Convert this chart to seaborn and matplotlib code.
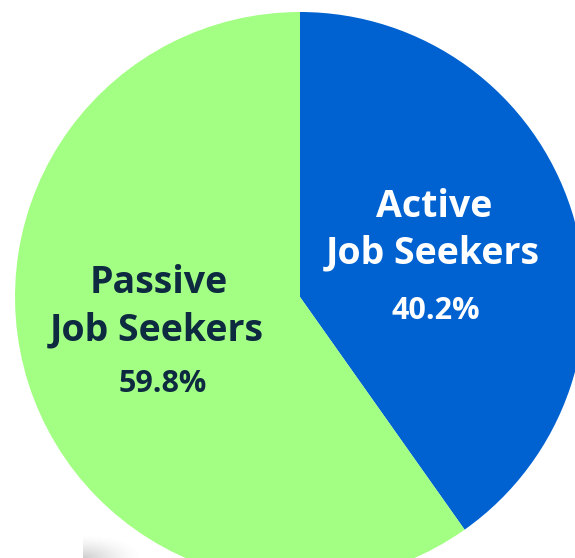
import matplotlib
matplotlib.use("Agg")
import matplotlib.pyplot as plt
import seaborn as sns
import numpy as np

sns.set_theme(style="white")
plt.rcParams['font.family'] = ['Open Sans', 'DejaVu Sans']

categories = ["Active\nJob Seekers", "Passive\nJob Seekers"]
values = [40.2, 59.8]
colors = ["#0062D1", "#A3FF84"]
text_colors = ["white", "#0D2A40"]

W, H = 575, 558
fig = plt.figure(figsize=(W / 100, H / 100), dpi=100)
ax = fig.add_axes([0, 0, 1, 1])

cx, cy, r = 300, H - 297, 285
ax.pie(values, colors=colors, startangle=90, counterclock=False,
       center=(cx, cy), radius=r, frame=True,
       wedgeprops=dict(linewidth=0, zorder=2))

# faint shadow in bottom-left corner
gx = np.linspace(0, 1, 60)
gy = np.linspace(0, 1, 40)
GX, GY = np.meshgrid(gx, gy)
dist = np.sqrt(GX ** 2 + (1 - GY) ** 2)
alpha = np.clip(1 - dist, 0, 1) ** 1.5 * 0.35
rgba = np.zeros((40, 60, 4))
rgba[..., :3] = 0.45
rgba[..., 3] = alpha
ax.imshow(rgba, extent=(83, 143, 0, 24), origin="upper", zorder=1,
          aspect="auto", interpolation="bilinear")

ax.set_xlim(0, W)
ax.set_ylim(0, H)
ax.axis("off")

# label positions (pixels from top-left)
label_pos = [
    ((434, 217), (433, 263), (436, 307)),
    ((159, 293), (157, 340), (163, 380)),
]
for cat, val, tc, (p1, p2, p3) in zip(categories, values, text_colors, label_pos):
    l1, l2 = cat.split("\n")
    ax.text(p1[0], H - p1[1], l1, ha="center", va="baseline",
            fontsize=27, fontweight="bold", color=tc, zorder=3)
    ax.text(p2[0], H - p2[1], l2, ha="center", va="baseline",
            fontsize=27, fontweight="bold", color=tc, zorder=3)
    ax.text(p3[0], H - p3[1] - 4, f"{val}%", ha="center", va="center",
            fontsize=22, fontweight="bold", color=tc, zorder=3)

fig.savefig("out.png", dpi=100)
